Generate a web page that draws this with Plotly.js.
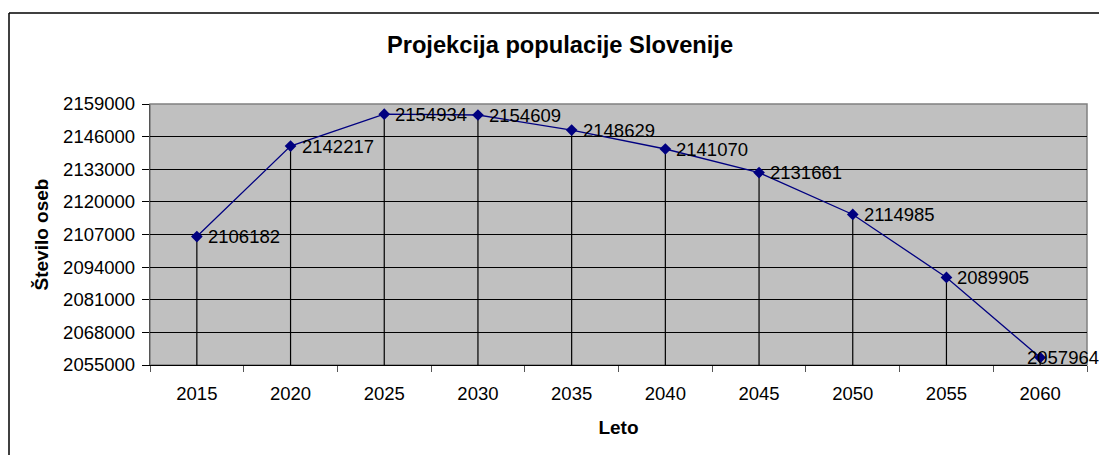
<!DOCTYPE html>
<html>
<head>
<meta charset="utf-8">
<script src="https://cdn.plot.ly/plotly-3.0.1.min.js"></script>
<style>html,body{margin:0;padding:0;background:#fff;}#chart{width:1099px;height:455px;}</style>
</head>
<body>
<div id="chart"></div>
<script>
const years = ['2015','2020','2025','2030','2035','2040','2045','2050','2055','2060'];
const population = [2106182, 2142217, 2154934, 2154609, 2148629, 2141070, 2131661, 2114985, 2089905, 2057964];
const yMin = 2055000;
const yMax = 2159000;
const yStep = 13000;

const FONT = 'Liberation Sans, Arial, sans-serif';
const TICK_SIZE = 18.5;

const dropLen = population.map(v => v - yMin);

const trace = {
  type: 'scatter',
  mode: 'lines+markers',
  x: years,
  y: population,
  cliponaxis: false,
  line: {color: '#000080', width: 1.3},
  marker: {symbol: 'diamond', size: 9, color: '#000080'},
  error_y: {type: 'data', symmetric: false, array: population.map(() => 0), arrayminus: dropLen, color: '#000', thickness: 1.2, width: 0},
  hoverinfo: 'skip'
};

const labelAnnotations = population.map((v, i) => ({
  x: i, y: v, xref: 'x', yref: 'y',
  text: String(v), showarrow: false,
  xanchor: 'left', yanchor: 'middle',
  xshift: i === population.length - 1 ? -15 : 9,
  font: {family: FONT, size: TICK_SIZE, color: '#000'}
}));

const layout = {
  width: 1099, height: 455,
  margin: {l: 150, r: 12, t: 104, b: 90},
  paper_bgcolor: '#fff',
  plot_bgcolor: '#C0C0C0',
  showlegend: false,
  font: {family: FONT, color: '#000', size: TICK_SIZE},
  title: {text: '<b>Projekcija populacije Slovenije</b>', font: {family: FONT, size: 23.7, color: '#000'}, x: 560/1099, xanchor: 'center', xref: 'container', y: 1 - 45/455, yanchor: 'middle', yref: 'container'},
  xaxis: {
    type: 'category', range: [-0.5, 9.5], tickson: 'boundaries',
    ticks: 'outside', ticklen: 6, tickcolor: '#555', tickwidth: 1.2,
    showline: true, linecolor: '#000', linewidth: 1.3,
    showgrid: false, zeroline: false,
    tickfont: {family: FONT, size: TICK_SIZE, color: '#000'},
    ticklabelstandoff: 12,
    title: {text: '<b>Leto</b>', font: {family: FONT, size: 19, color: '#000'}, standoff: 17},
    fixedrange: true
  },
  yaxis: {
    range: [yMin, yMax], tick0: yMin, dtick: yStep,
    ticks: 'outside', ticklen: 7, tickcolor: '#000', tickwidth: 1.2,
    showline: true, linecolor: '#555', linewidth: 1.3,
    showgrid: true, gridcolor: '#000', gridwidth: 1,
    zeroline: false, tickformat: 'd',
    tickfont: {family: FONT, size: TICK_SIZE, color: '#000'},
    ticklabelstandoff: 3,
    title: {text: '<b>Število oseb</b>', font: {family: FONT, size: 19, color: '#000'}, standoff: 9},
    fixedrange: true
  },
  annotations: labelAnnotations,
  shapes: [
    {type: 'rect', xref: 'paper', yref: 'paper', x0: 0, x1: 1, y0: 0, y1: 1, line: {color: '#808080', width: 1.5}, layer: 'below'},
    {type: 'line', xref: 'paper', yref: 'paper', x0: (9-150)/937, x1: (9-150)/937, y0: -0.5, y1: (365-13)/261, line: {color: '#000', width: 1.5}},
    {type: 'line', xref: 'paper', yref: 'paper', x0: (9-150)/937, x1: 1.05, y0: (365-13)/261, y1: (365-13)/261, line: {color: '#000', width: 1.5}}
  ]
};

Plotly.newPlot('chart', [trace], layout, {displayModeBar: false});
</script>
</body>
</html>
